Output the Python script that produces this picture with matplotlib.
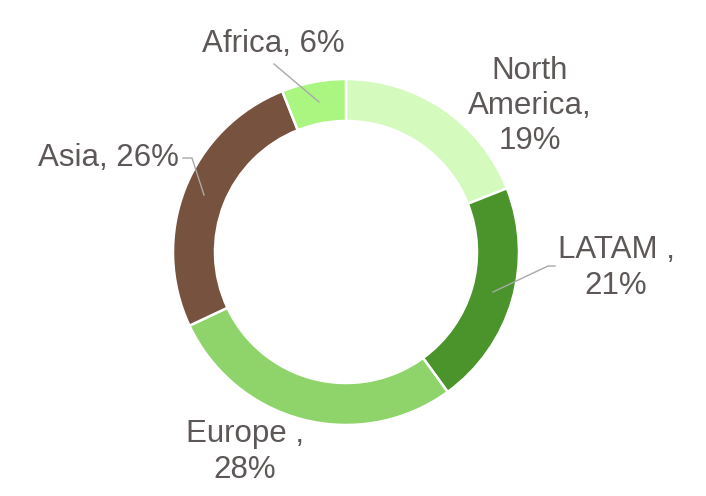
import matplotlib
matplotlib.use("Agg")
import matplotlib.pyplot as plt

# regional split, clockwise from 12 o'clock
regions = ["North America", "LATAM", "Europe", "Asia", "Africa"]
shares = [19, 21, 28, 26, 6]
colors = ["#d4fabd", "#4a942b", "#8fd46b", "#77523f", "#abf581"]
labels = ["North\nAmerica,\n19%", "LATAM ,\n21%", "Europe ,\n28%", "Asia, 26%", "Africa, 6%"]

W, H = 706, 496
TEXT = "#5d5857"
LEAD = "#a9a9a9"


def px(x, y):
    # image pixel coords -> data coords (y up)
    return x, H - y


fig = plt.figure(figsize=(W / 100, H / 100), dpi=100)
ax = fig.add_axes([0, 0, 1, 1])

ax.pie(shares, colors=colors, startangle=90, counterclock=False,
       center=px(346, 252), radius=173, frame=True,
       wedgeprops=dict(width=42, edgecolor="white", linewidth=1.8))
ax.set_xlim(0, W)
ax.set_ylim(0, H)
ax.set_aspect("equal")
ax.axis("off")

# label positions (pixel centres)
label_pos = [(530, 106), (616, 268), (245, 452), (108, 158), (273, 44)]
for lab, (x, y) in zip(labels, label_pos):
    ax.text(*px(x, y), lab, ha="center", va="center", fontsize=22.5,
            color=TEXT, family="Liberation Sans", linespacing=1.22)

# leader lines
leaders = [
    [(493, 292), (548, 266), (555, 266)],
    [(183, 158), (192, 158), (204, 195)],
    [(274, 64), (319, 102)],
]
for pts in leaders:
    xs = [p[0] for p in pts]
    ys = [H - p[1] for p in pts]
    ax.plot(xs, ys, color=LEAD, lw=1)

fig.savefig("out.png", dpi=100)
